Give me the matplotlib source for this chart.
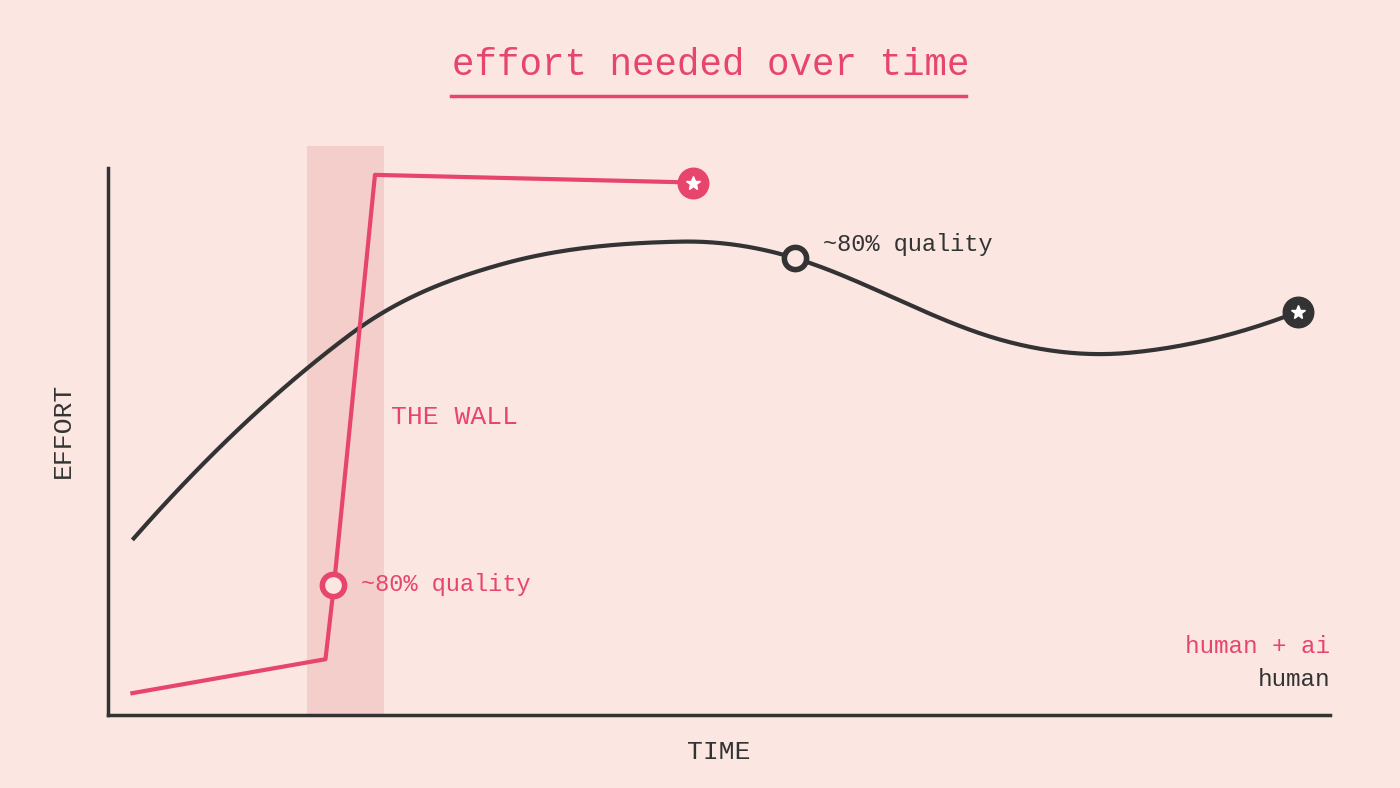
import numpy as np
import matplotlib.pyplot as plt
from matplotlib.lines import Line2D

# ---- data (time 0-100, effort 0-100) ----
human_x = [2.0, 19.8, 32.1, 46.8, 56.2, 73.0, 83.6, 97.4]
human_y = [32.0, 69.5, 82.3, 86.5, 83.5, 68.6, 66.2, 73.7]
ai_x = [2.0, 17.8, 18.5, 21.85, 47.9]
ai_y = [4.0, 10.2, 23.8, 98.7, 97.3]
wall = (16.3, 22.6)
ai_q80 = (18.4, 23.8)
human_q80 = (56.2, 83.5)

BG = '#fbe6e2'
RED = '#e8456c'
DARK = '#333333'
MONO = ['Liberation Mono', 'DejaVu Sans Mono']


def smooth(xs, ys, n=40):
    # cubic hermite through the read points, for drawing only
    xs, ys = np.array(xs, float), np.array(ys, float)
    m = np.zeros_like(ys)
    m[1:-1] = (ys[2:] - ys[:-2]) / (xs[2:] - xs[:-2])
    m[0] = 2 * (ys[1] - ys[0]) / (xs[1] - xs[0]) - m[1]
    m[-1] = 2 * (ys[-1] - ys[-2]) / (xs[-1] - xs[-2]) - m[-2]
    ox, oy = [], []
    t = np.linspace(0, 1, n)
    for i in range(len(xs) - 1):
        h = xs[i+1] - xs[i]
        h00 = 2*t**3 - 3*t**2 + 1
        h10 = t**3 - 2*t**2 + t
        h01 = -2*t**3 + 3*t**2
        h11 = t**3 - t**2
        ox.extend(xs[i] + t*h)
        oy.extend(h00*ys[i] + h10*h*m[i] + h01*ys[i+1] + h11*h*m[i+1])
    return ox, oy


fig = plt.figure(figsize=(14, 7.88), dpi=100)
fig.patch.set_facecolor(BG)
ax = fig.add_axes([0.0771, 0.0926, 0.8729, 0.7223])
ax.set_facecolor(BG)
ax.set_xlim(0, 100)
ax.set_ylim(0, 104)

ax.axvspan(*wall, color='#f2c9c6', alpha=0.8, lw=0, zorder=1)

sx, sy = smooth(human_x, human_y)
ax.plot(sx, sy, color=DARK, lw=3, zorder=3, solid_capstyle='butt')
ax.plot(ai_x, ai_y, color=RED, lw=3, zorder=4)

# quality markers
ax.plot(*human_q80, 'o', ms=16, mfc=BG, mec=DARK, mew=4, zorder=5)
ax.plot(*ai_q80, 'o', ms=16, mfc=BG, mec=RED, mew=4, zorder=5)
# end stars
for x, y, c in ((human_x[-1], human_y[-1], DARK), (ai_x[-1], ai_y[-1], RED)):
    ax.plot(x, y, 'o', ms=22, color=c, zorder=5)
    ax.plot(x, y, '*', ms=10, color='white', zorder=6)

ax.text(human_q80[0] + 2.3, human_q80[1] + 2.5, '~80% quality', family=MONO,
        fontsize=17, color=DARK, va='center')
ax.text(ai_q80[0] + 2.3, ai_q80[1], '~80% quality', family=MONO,
        fontsize=17, color=RED, va='center')
ax.text(23.2, 54.5, 'THE WALL', family=MONO, fontsize=19, color=RED, va='center')
ax.text(100, 12.5, 'human + ai', family=MONO, fontsize=17.5, color=RED, ha='right', va='center')
ax.text(100, 6.5, 'human', family=MONO, fontsize=17.5, color=DARK, ha='right', va='center')

for s in ('top', 'right'):
    ax.spines[s].set_visible(False)
for s in ('left', 'bottom'):
    ax.spines[s].set_linewidth(2.5)
    ax.spines[s].set_color(DARK)
ax.spines['left'].set_bounds(0, 100)
ax.set_xticks([])
ax.set_yticks([])
ax.set_xlabel('TIME', family=MONO, fontsize=19, color=DARK, labelpad=18)
ax.set_ylabel('EFFORT', family=MONO, fontsize=19, color=DARK, labelpad=24)

fig.text(0.5075, 0.918, 'effort needed over time', family=MONO, fontsize=27,
         color=RED, ha='center', va='center')
fig.add_artist(Line2D([0.322, 0.69], [0.878, 0.878], color=RED, lw=2.5))

fig.savefig('out.png', dpi=100, facecolor=BG)
